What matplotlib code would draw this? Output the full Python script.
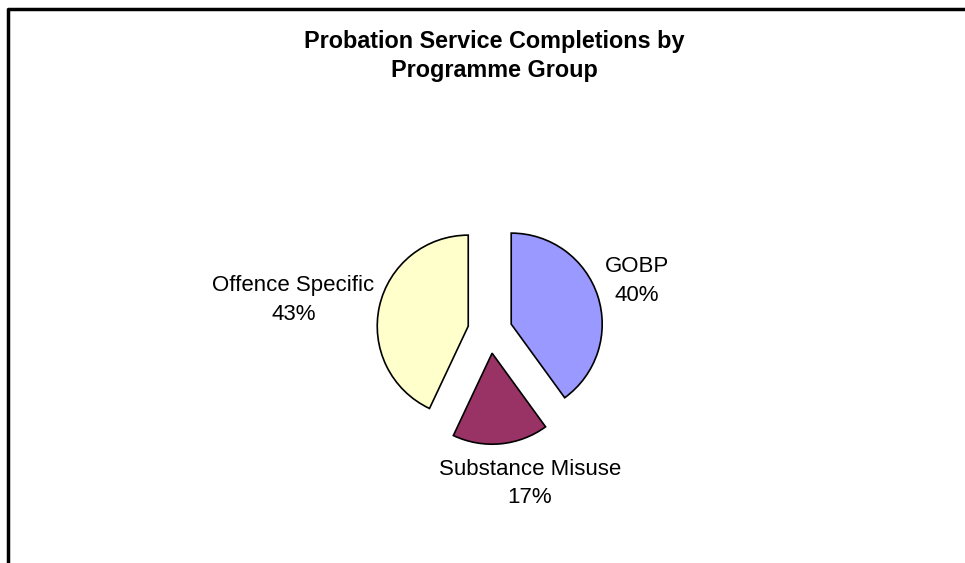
import matplotlib.pyplot as plt
from matplotlib.lines import Line2D

# Data
categories = ['GOBP', 'Substance Misuse', 'Offence Specific']
shares = [40, 17, 43]
colors = ['#9999FF', '#993366', '#FFFFCC']

# label positions, in units of pie radius, relative to the pie centre
label_pos = [(1.61, 0.55), (0.44, -1.68), (-2.16, 0.34)]

plt.rcParams['font.family'] = ['Liberation Sans', 'DejaVu Sans']

fig = plt.figure(figsize=(9.65, 5.63), dpi=100)
ax = fig.add_axes([0, 0, 1, 1])

wedges, _ = ax.pie(shares, colors=colors, startangle=90, counterclock=False,
                   radius=1, explode=[0.245] * 3,
                   wedgeprops=dict(edgecolor='black', linewidth=1.2))

# place pie centre at (490, 331) px with radius 91 px
px = 91.0
ax.set_xlim(-490 / px, (965 - 490) / px)
ax.set_ylim(-(563 - 331) / px, 331 / px)
ax.set_aspect('auto')
ax.axis('off')

for name, val, (lx, ly) in zip(categories, shares, label_pos):
  ax.text(lx, ly, f"{name}\n{val}%", ha='center', va='center',
          fontsize=16, linespacing=1.45)

fig.text(494 / 965, 1 - 56 / 563, "Probation Service Completions by\nProgramme Group",
         ha='center', va='center', fontsize=16.8, fontweight='bold', linespacing=1.35)

# chart frame (top and left edges visible)
fig.add_artist(Line2D([8 / 965, 8 / 965, 1], [0, 1 - 9 / 563, 1 - 9 / 563],
                      transform=fig.transFigure, color='black', linewidth=2.5))

fig.savefig('out.png', dpi=100)
